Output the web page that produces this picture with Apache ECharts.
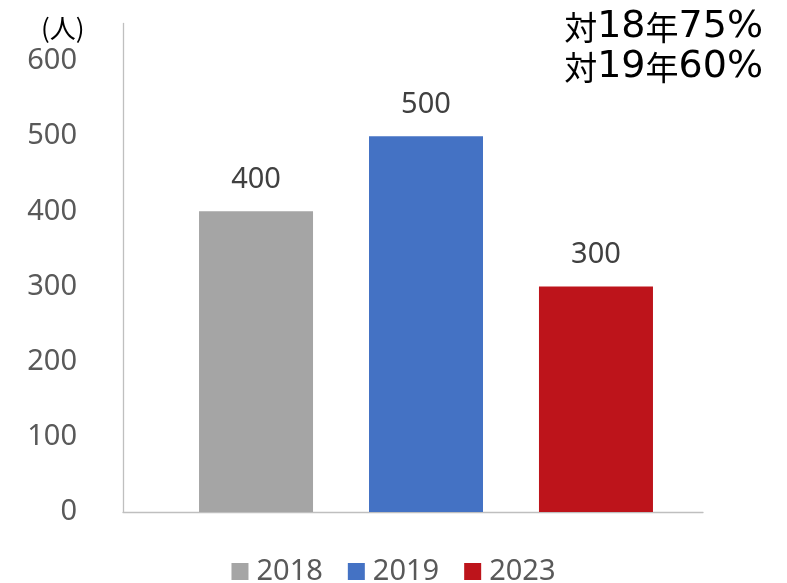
<!DOCTYPE html>
<html>
<head>
<meta charset="utf-8">
<script src="https://cdn.jsdelivr.net/npm/echarts@6/dist/echarts.min.js"></script>
<style>html,body{margin:0;padding:0;background:#fff}#c{width:787px;height:583px}</style>
</head>
<body>
<div id="c"></div>
<script>
const seriesNames = ['2018', '2019', '2023'];
const seriesValues = [[400], [500], [300]];
const seriesColors = ['#A5A5A5', '#4472C4', '#BD141B'];
const category = [''];
const yTicks = [0, 100, 200, 300, 400, 500, 600];
const unitLabel = '(人)';
const noteLines = ['対18年75%', '対19年60%'];

// split note text into CJK / non-CJK runs for rich styling
function richLine(s) {
  return s.match(/[\u3000-\u9fff]+|[^\u3000-\u9fff]+/g)
    .map(p => (/[\u3000-\u9fff]/.test(p) ? '{c|' + p + '}' : '{d|' + p + '}')).join('');
}

const chart = echarts.init(document.getElementById('c'));
const FONT = '"Noto Sans", "Noto Sans CJK JP", sans-serif';
const gridTop = 23.4, gridBottom = 71;
chart.setOption({
  animation: false,
  title: [
    { text: unitLabel, left: 36, top: 10, textStyle: { fontFamily: '"Noto Sans CJK JP"', fontSize: 26, fontWeight: 'normal', color: '#000' } },
    { text: noteLines.map(richLine).join('\n'), right: 19, top: 2,
      textStyle: {
        fontWeight: 'normal',
        rich: {
          c: { fontFamily: '"Noto Sans CJK JP"', fontSize: 33, fontWeight: 'normal', lineHeight: 40, color: '#000' },
          d: { fontFamily: '"DejaVu Sans"', fontSize: 38, fontWeight: 'normal', lineHeight: 40, color: '#000' }
        }
      } }
  ],
  legend: {
    bottom: -8, left: 'center',
    itemWidth: 17, itemHeight: 17, itemGap: 25, icon: 'rect',
    textStyle: { fontFamily: FONT, fontSize: 29, color: '#595959', padding: [0, 0, 0, 3] },
    data: seriesNames
  },
  grid: [
    { left: 149, right: 84, top: gridTop, bottom: gridBottom },
    { left: 123, right: 84, top: gridTop, bottom: gridBottom }
  ],
  xAxis: [
    { gridIndex: 0, type: 'category', data: category, show: false },
    { gridIndex: 1, type: 'category', data: category,
      axisLine: { show: true, lineStyle: { color: '#BFBFBF', width: 1.3 } },
      axisTick: { show: false }, axisLabel: { show: false }, splitLine: { show: false } }
  ],
  yAxis: [
    { gridIndex: 0, type: 'value', min: 0, max: 650, show: false, splitLine: { show: false } },
    { gridIndex: 1, type: 'value', min: 0, max: 650, interval: 100,
      axisLine: { show: true, lineStyle: { color: '#BFBFBF', width: 1.3 } },
      axisTick: { show: false }, splitLine: { show: false },
      axisLabel: { margin: 46, fontFamily: FONT, fontSize: 29, color: '#595959',
        formatter: v => (yTicks.indexOf(v) >= 0 ? String(v) : '') } }
  ],
  series: seriesNames.map((n, i) => ({
    name: n, type: 'bar', xAxisIndex: 0, yAxisIndex: 0,
    data: seriesValues[i], barWidth: 114, barGap: '49.1%',
    itemStyle: { color: seriesColors[i] },
    label: { show: true, position: 'top', distance: 17, fontFamily: FONT, fontSize: 29, color: '#404040' }
  }))
});
</script>
</body>
</html>
